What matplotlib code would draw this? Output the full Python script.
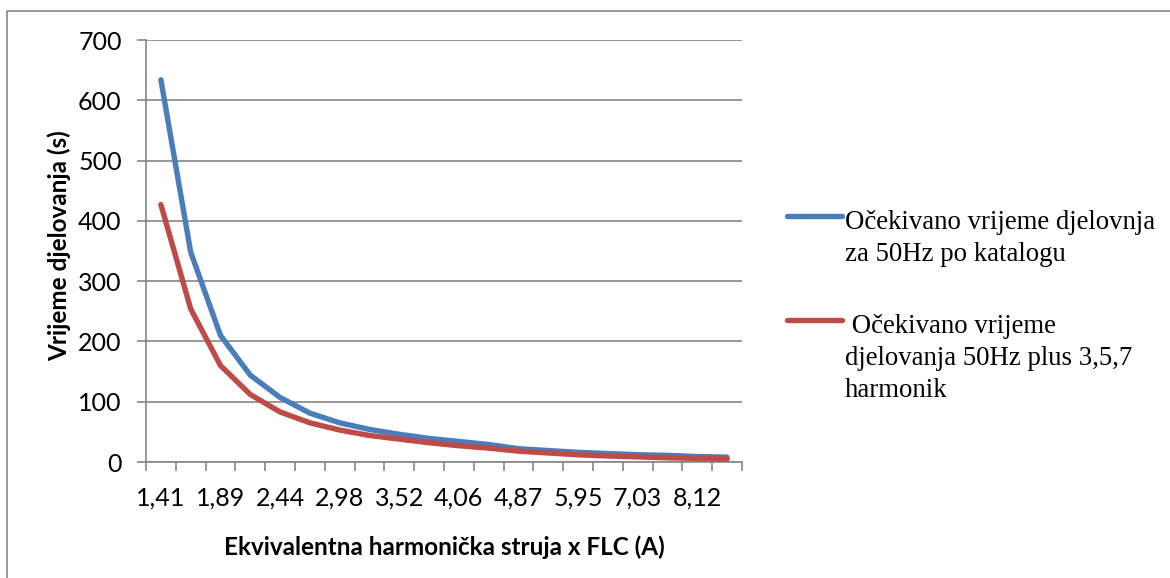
import matplotlib
matplotlib.use("Agg")
import matplotlib.pyplot as plt
import numpy as np
from matplotlib.lines import Line2D

# struja (x FLC) - svaka druga kategorija ima oznaku na osi
struja = [1.41, 1.62, 1.89, 2.16, 2.44, 2.71, 2.98, 3.25, 3.52, 3.79,
          4.06, 4.33, 4.87, 5.41, 5.95, 6.49, 7.03, 7.58, 8.12, 8.66]
katalog_50hz = [634, 348, 210, 144, 107, 81, 65, 54, 46, 39,
                34, 29, 22, 19, 16, 14, 12, 11, 9, 8]
harmonici = [427, 254, 160, 112, 83, 65, 53, 44, 38, 32,
             27, 23, 18, 15, 12, 10, 8.5, 7, 6, 5]
naziv_plava = "Očekivano vrijeme djelovnja\nza 50Hz po katalogu"
naziv_crvena = " Očekivano vrijeme\ndjelovanja 50Hz plus 3,5,7\nharmonik"

W, H = 1170, 578
plava = "#4A7EBB"
crvena = "#BE4B48"
siva = "#868686"
sans = ["Lato", "DejaVu Sans"]
serif = ["Liberation Serif", "DejaVu Serif"]

fig = plt.figure(figsize=(W / 100, H / 100), dpi=100)
fig.patch.set_facecolor("white")

def px(x, y):
    return x / W, 1 - y / H

# okvir grafikona (vidljivi lijevi i gornji rub)
fig.add_artist(Line2D([6.5 / W, 6.5 / W, 1.0], [0.0, 1 - 10.5 / H, 1 - 10.5 / H],
                      color=siva, lw=1.2, transform=fig.transFigure))

ax = fig.add_axes([146 / W, 1 - 462 / H, 596 / W, 422 / H])
x = np.arange(len(struja))
ax.plot(x, katalog_50hz, color=plava, lw=3.9, solid_capstyle="round",
        solid_joinstyle="round", label=naziv_plava, zorder=3)
ax.plot(x, harmonici, color=crvena, lw=3.9, solid_capstyle="round",
        solid_joinstyle="round", label=naziv_crvena, zorder=4)

ax.set_xlim(-0.5, len(struja) - 0.5)
ax.set_ylim(0, 700)
ax.set_yticks(range(0, 701, 100))
ax.yaxis.grid(True, color=siva, lw=1.2)
ax.set_axisbelow(True)

# oznake na svakoj drugoj kategoriji, crtice izmedju kategorija
ax.set_xticks(x[::2])
ax.set_xticklabels([f"{v:.2f}".replace(".", ",") for v in struja[::2]])
ax.set_xticks(np.arange(-0.5, len(struja), 1), minor=True)
ax.tick_params(axis="x", which="major", length=0, pad=18, labelsize=18, colors="black")
ax.tick_params(axis="x", which="minor", length=6.5, width=1.2, color=siva, direction="out")
ax.tick_params(axis="y", length=6.5, width=1.2, color=siva, pad=11, labelsize=18)
for lab in ax.get_xticklabels() + ax.get_yticklabels():
    lab.set_family(sans)

for s in ["top", "right"]:
    ax.spines[s].set_visible(False)
for s in ["left", "bottom"]:
    ax.spines[s].set_color(siva)
    ax.spines[s].set_linewidth(1.2)

fig.text(*px(59, 246), "Vrijeme djelovanja (s)", rotation=90, ha="center", va="center",
         fontsize=17.5, fontweight="bold", family=sans)
fig.text(*px(444, 555), "Ekvivalentna harmonička struja x FLC (A)", ha="center", va="baseline",
         fontsize=17.5, fontweight="bold", family=sans)

# legenda desno, crtica poravnata s prvim redom teksta
for y0, boja, naziv in [(216, plava, naziv_plava), (320, crvena, naziv_crvena)]:
    fig.add_artist(Line2D([787 / W, 842 / W], [1 - y0 / H, 1 - y0 / H], color=boja,
                          lw=3.9, solid_capstyle="round", transform=fig.transFigure))
    fig.text(845 / W, 1 - (y0 - 6) / H, naziv, ha="left", va="top", fontsize=19.3,
             family=serif, linespacing=1.37)

fig.savefig("out.png", dpi=100, facecolor="white")
